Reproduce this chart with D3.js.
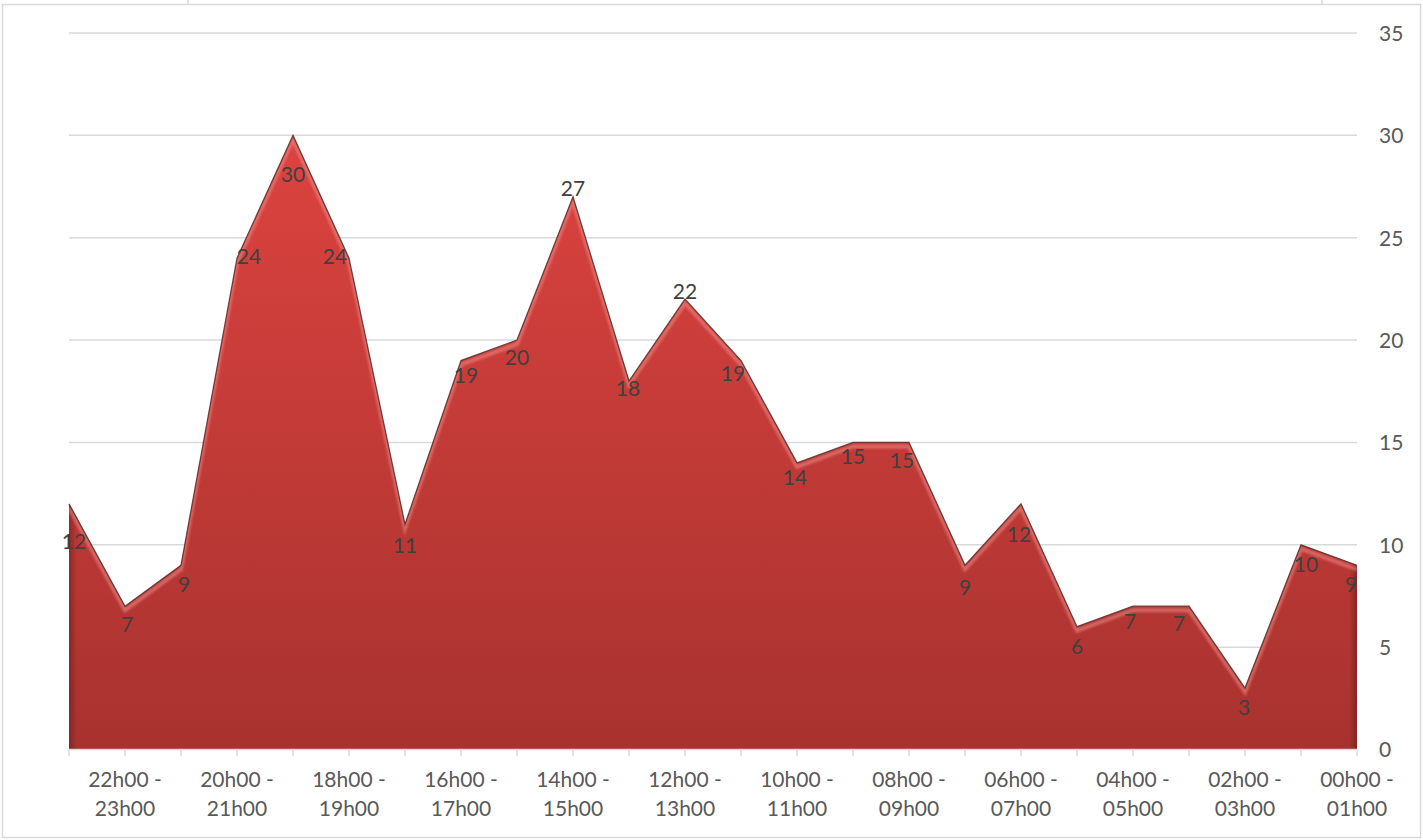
<!DOCTYPE html>
<html><head><meta charset="utf-8">
<script src="https://cdn.jsdelivr.net/npm/d3@7"></script>
<style>body{margin:0;background:#fff}svg{display:block}</style>
</head><body>
<script>
const categories = ["23h00 - 24h00","22h00 - 23h00","21h00 - 22h00","20h00 - 21h00","19h00 - 20h00","18h00 - 19h00","17h00 - 18h00","16h00 - 17h00","15h00 - 16h00","14h00 - 15h00","13h00 - 14h00","12h00 - 13h00","11h00 - 12h00","10h00 - 11h00","09h00 - 10h00","08h00 - 09h00","07h00 - 08h00","06h00 - 07h00","05h00 - 06h00","04h00 - 05h00","03h00 - 04h00","02h00 - 03h00","01h00 - 02h00","00h00 - 01h00"];
const values = [12,7,9,24,30,24,11,19,20,27,18,22,19,14,15,15,9,12,6,7,7,3,10,9];
const yTicks = [0,5,10,15,20,25,30,35];
// label nudges (px) relative to each point
const labelDx = [5,2,3,12,0,-14,0,5,0,0,-1,0,-8,-2,0,-7,0,-2,0,-3,-10,-1,5,-6];
const labelDy = [38,18,19,-2,39,-2,21,15,18,-8,8,-7,13,15,14,18,22,31,20,15,17,20,20,19];

const W = 1423, H = 840;
const svg = d3.select("body").append("svg").attr("width", W).attr("height", H);
const font = "Lato, 'Open Sans', sans-serif";
const fs = 21;

// outer frame
svg.append("rect").attr("x",2.5).attr("y",4.5).attr("width",1418).attr("height",833)
  .attr("fill","none").attr("stroke","#d9d9d9").attr("stroke-width",1.5);
[188,1322].forEach(x=>svg.append("line").attr("x1",x).attr("x2",x).attr("y1",0).attr("y2",4.5)
  .attr("stroke","#d9d9d9").attr("stroke-width",1.5));

const x = d3.scalePoint().domain(categories).range([69,1357]);
const y = d3.scaleLinear().domain([0,35]).range([749.5,33]);

// gridlines
svg.append("g").selectAll("line").data(yTicks.filter(d=>d>0)).join("line")
  .attr("x1",69).attr("x2",1357).attr("y1",d=>y(d)).attr("y2",d=>y(d))
  .attr("stroke","#d9d9d9").attr("stroke-width",1.5);

// y axis labels (right)
const yAxis = d3.axisRight(y).tickValues(yTicks).tickSize(0).tickPadding(0);
const ya = svg.append("g").attr("transform","translate(1379,0)").call(yAxis);
ya.select(".domain").remove();
ya.selectAll("text").attr("font-family",font).attr("font-size",fs).attr("fill","#595959").attr("dy","0.35em");

const defs = svg.append("defs");
const grad = defs.append("linearGradient").attr("id","g1").attr("gradientUnits","userSpaceOnUse")
  .attr("x1",0).attr("x2",0).attr("y1",y(30)).attr("y2",y(0));
grad.append("stop").attr("offset","0%").attr("stop-color","#dc433f");
grad.append("stop").attr("offset","100%").attr("stop-color","#a8322f");

const sideGrad = defs.append("linearGradient").attr("id","g2").attr("gradientUnits","userSpaceOnUse")
  .attr("x1",69).attr("x2",1357).attr("y1",0).attr("y2",0);
sideGrad.append("stop").attr("offset","0").attr("stop-color","#5a1614").attr("stop-opacity",0.45);
sideGrad.append("stop").attr("offset","0.006").attr("stop-color","#5a1614").attr("stop-opacity",0);
sideGrad.append("stop").attr("offset","0.994").attr("stop-color","#5a1614").attr("stop-opacity",0);
sideGrad.append("stop").attr("offset","1").attr("stop-color","#5a1614").attr("stop-opacity",0.5);

const blur = defs.append("filter").attr("id","bl").attr("x","-5%").attr("y","-5%").attr("width","110%").attr("height","110%");
blur.append("feGaussianBlur").attr("stdDeviation",1.2);

const area = d3.area().x((d,i)=>x(categories[i])).y0(y(0)).y1(d=>y(d));
const line = d3.line().x((d,i)=>x(categories[i])).y(d=>y(d));

defs.append("clipPath").attr("id","clipA").append("path").attr("d",area(values));

svg.append("path").attr("d",area(values)).attr("fill","url(#g1)");
svg.append("path").attr("d",area(values)).attr("fill","url(#g2)");
const gc = svg.append("g").attr("clip-path","url(#clipA)");
gc.append("path").attr("d",line(values)).attr("transform","translate(0,4)")
  .attr("fill","none").attr("stroke","#f08c88").attr("stroke-opacity",0.55).attr("stroke-width",4).attr("filter","url(#bl)");
gc.append("line").attr("x1",69).attr("x2",1357).attr("y1",y(0)-2).attr("y2",y(0)-2)
  .attr("stroke","#6a1c1a").attr("stroke-opacity",0.35).attr("stroke-width",4).attr("filter","url(#bl)");
svg.append("path").attr("d",line(values)).attr("fill","none").attr("stroke","#5b2a28").attr("stroke-width",1.3).attr("stroke-opacity",0.85);

// x axis
svg.append("line").attr("x1",69).attr("x2",1357).attr("y1",749.5).attr("y2",749.5).attr("stroke","#d9d9d9").attr("stroke-width",1.5);
svg.append("g").selectAll("line").data(categories).join("line")
  .attr("x1",d=>x(d)).attr("x2",d=>x(d)).attr("y1",749.5).attr("y2",756)
  .attr("stroke","#d9d9d9").attr("stroke-width",1.5);

const xl = svg.append("g").selectAll("text").data(categories.filter((d,i)=>i%2===1)).join("text")
  .attr("x",d=>x(d)).attr("y",787).attr("text-anchor","middle")
  .attr("font-family",font).attr("font-size",fs).attr("fill","#595959");
xl.each(function(d){
  const parts = d.split(" - ");
  const t = d3.select(this);
  t.append("tspan").attr("x",x(d)).attr("dy",0).text(parts[0]+" -");
  t.append("tspan").attr("x",x(d)).attr("dy",29).text(parts[1]);
});

// data labels
svg.append("g").selectAll("text").data(values).join("text")
  .attr("x",(d,i)=>x(categories[i])+labelDx[i]).attr("y",(d,i)=>y(d)+labelDy[i])
  .attr("dy","0.35em").attr("text-anchor","middle")
  .attr("font-family",font).attr("font-size",fs).attr("fill","#404040").text(d=>d);
</script>
</body></html>
